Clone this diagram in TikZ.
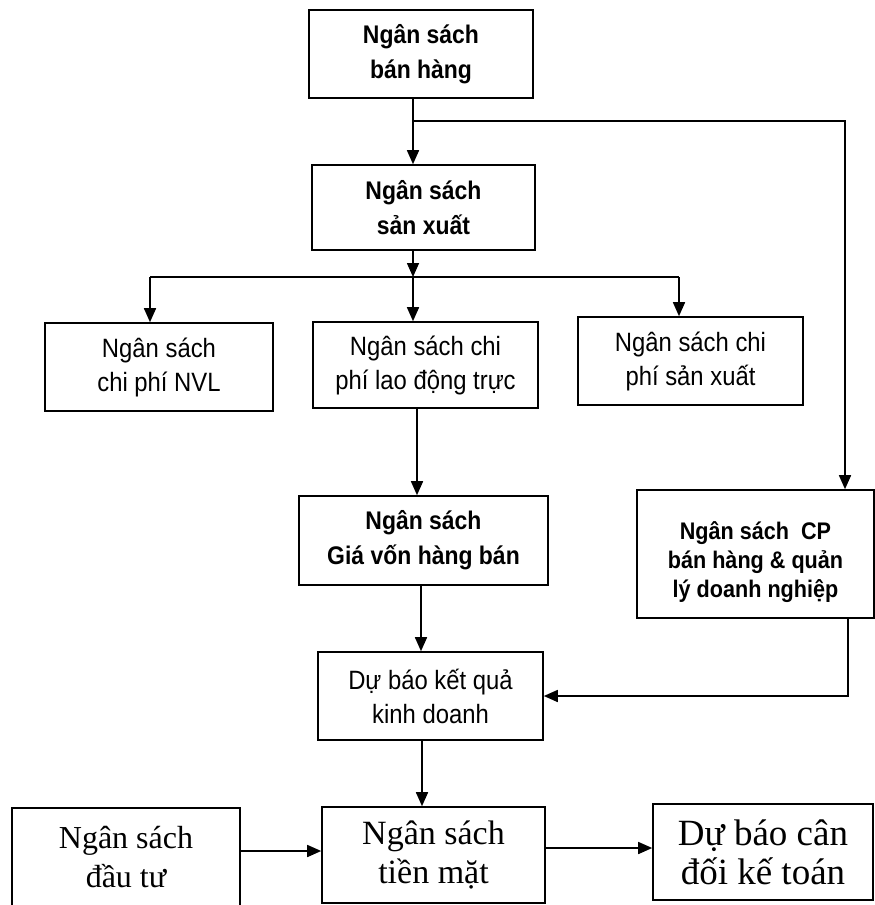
\documentclass[tikz,border=0pt]{standalone}
\usepackage{fontspec}
\setmainfont{Liberation Serif}
\newfontfamily\sansf[FakeStretch=0.9]{Liberation Sans}
\usetikzlibrary{arrows.meta}

\tikzset{
  box/.style={draw, line width=1.6pt, rectangle, align=center, inner sep=0pt},
  sbold/.style={box, font=\sansf\bfseries\fontsize{25.5}{35}\selectfont},
  sreg/.style={box, font=\sansf\fontsize{26.5}{34}\selectfont},
  serifbox/.style={box, font=\fontsize{#1}{39}\selectfont},
  arr/.style={line width=1.6pt, -{Triangle[length=14pt,width=12pt]}},
  link/.style={line width=1.6pt}
}

\begin{document}
\begin{tikzpicture}[x=1pt,y=-1pt]
\useasboundingbox (0,0) rectangle (875,905);

% boxes
\node[sbold, minimum width=224pt, minimum height=88pt] (b1) at (421,54) {Ngân sách\\bán hàng};
\node[sbold, minimum width=223pt, minimum height=85pt] (b2) at (423.5,207.5) {Ngân sách\\sản xuất};
\node[sreg, minimum width=228pt, minimum height=88pt] (b3) at (159,367) {Ngân sách\\chi phí NVL};
\node[sreg, minimum width=225pt, minimum height=86pt] (b4) at (425.5,365) {Ngân sách chi\\phí lao động trực};
\node[sreg, minimum width=225pt, minimum height=88pt] (b5) at (690.5,361) {Ngân sách chi\\phí sản xuất};
\node[sbold, minimum width=249pt, minimum height=89pt] (b6) at (423.5,540.5) {Ngân sách\\Giá vốn hàng bán};
% selling & admin budget: frame, then its text set a little low
\node[box, minimum width=237pt, minimum height=128pt] (b7) at (755.5,554) {};
\node[align=center, inner sep=0pt, font=\sansf\bfseries\fontsize{24}{29}\selectfont] (b7t) at (755.5,562) {Ngân sách~~CP\\bán hàng \& quản\\lý doanh nghiệp};
\node[sreg, minimum width=225pt, minimum height=88pt] (b8) at (430.5,696) {Dự báo kết quả\\kinh doanh};
\node[serifbox=32, minimum width=228pt, minimum height=98pt] (b9) at (126,857) {Ngân sách\\đầu tư};
\node[serifbox=34, minimum width=223pt, minimum height=96pt] (b10) at (433.5,855) {Ngân sách\\tiền mặt};
\node[serifbox=37, minimum width=220pt, minimum height=96pt] (b11) at (763,852) {Dự báo cân\\đối kế toán};

% junction points
\coordinate (j1) at (413,121);
\coordinate (r1) at (845,121);
\coordinate (j2) at (413,277);
\coordinate (l2) at (150,277);
\coordinate (r2) at (679,277);

% sales budget feeds production and selling/admin budgets
\draw[arr] ([xshift=-8pt]b1.south) -- ([xshift=-8pt]b1.south |- b2.north);
\draw[arr] (j1) -- (r1) -- (r1 |- b7.north);

% production budget splits into three
\draw[arr] ([xshift=-10.5pt]b2.south) -- (j2);
\draw[link] (l2) -- (r2);
\draw[arr] (l2) -- (l2 |- b3.north);
\draw[arr] (j2) -- (j2 |- b4.north);
\draw[arr] (r2) -- (r2 |- b5.north);

% down the middle column
\draw[arr] ([xshift=-8.5pt]b4.south) -- ([xshift=-8.5pt]b4.south |- b6.north);
\draw[arr] ([xshift=-2.5pt]b6.south) -- ([xshift=-2.5pt]b6.south |- b8.north);
\draw[arr] ([xshift=92.5pt]b7.south) |- (b8.east);
\draw[arr] ([xshift=-8.5pt]b8.south) -- ([xshift=-8.5pt]b8.south |- b10.north);

% bottom row
\draw[arr] ([yshift=6pt]b9.east) -- ([yshift=6pt]b9.east -| b10.west);
\draw[arr] ([yshift=7pt]b10.east) -- ([yshift=7pt]b10.east -| b11.west);
\end{tikzpicture}
\end{document}
